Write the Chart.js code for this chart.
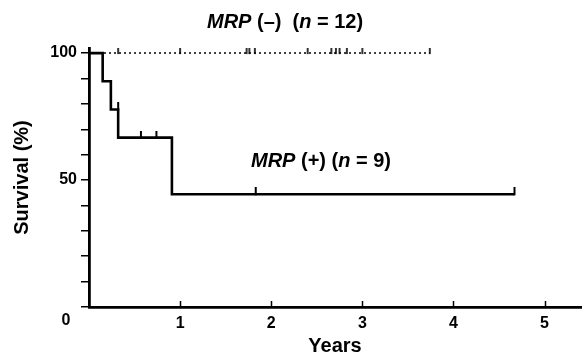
<!DOCTYPE html>
<html>
<head>
<meta charset="utf-8">
<script src="https://cdn.jsdelivr.net/npm/chart.js@4.4.1/dist/chart.umd.min.js"></script>
<style>
  html, body { margin: 0; padding: 0; background: #fff; }
  #wrap { width: 586px; height: 358px; position: relative; }
</style>
</head>
<body>
<div id="wrap"><canvas id="survChart"></canvas></div>
<script>
// Kaplan-Meier data (years, survival %)
const plusTimes = [0, 0.15, 0.24, 0.32, 0.91, 4.67];
const plusSurv = [100, 88.9, 77.8, 66.7, 44.4, 44.4];
const plusCensorTimes = [0.32, 0.57, 0.74, 1.83, 4.67];
const plusCensorSurv = [77.8, 66.7, 66.7, 44.4, 44.4];

const minusTimes = [0, 3.74];
const minusSurv = [100, 100];
const minusCensorTimes = [0.32, 1.0, 1.73, 1.76, 1.82, 2.40, 2.66, 2.71, 2.75, 2.83, 3.0, 3.74];

const xTicks = [1, 2, 3, 4, 5];
const yLabels = [50, 100];

const FONT = "'Liberation Sans', Arial, sans-serif";

// little upward censor tick used as point image
function censorMark(h, w) {
    const c = document.createElement('canvas');
    c.width = 4; c.height = h * 2;
    const g = c.getContext('2d');
    g.fillStyle = '#000';
    g.fillRect(2 - w / 2, 0, w, h + 1);
    return c;
}
const tickPlus = censorMark(7, 2);
const tickMinus = censorMark(6, 1.6);

const pts = (xs, ys) => xs.map((x, i) => ({ x: x, y: ys[i] }));

// extra drawing: inner x ticks, origin "0", curve labels
const extras = {
    id: 'extras',
    afterDraw(chart) {
        const ctx = chart.ctx;
        const xs = chart.scales.x;
        const bottom = chart.chartArea.bottom;
        ctx.save();
        ctx.strokeStyle = '#000';
        ctx.lineWidth = 1.5;
        xTicks.forEach(v => {
            const px = Math.round(xs.getPixelForValue(v)) + 0.5;
            ctx.beginPath();
            ctx.moveTo(px, bottom);
            ctx.lineTo(px, bottom - 6);
            ctx.stroke();
        });
        ctx.fillStyle = '#000';
        ctx.font = 'bold 16px ' + FONT;
        ctx.textAlign = 'center';
        ctx.textBaseline = 'top';
        ctx.fillText('0', xs.left - 23, bottom + 6);

        ctx.textBaseline = 'alphabetic';
        function label(parts, x, y) {
            ctx.textAlign = 'left';
            parts.forEach(p => {
                ctx.font = (p[1] ? 'italic ' : '') + 'bold 20px ' + FONT;
                ctx.fillText(p[0], x, y);
                x += ctx.measureText(p[0]).width;
            });
        }
        label([['MRP', true], [' (\u2013)  (', false], ['n', true], [' = 12)', false]], 207, 28);
        label([['MRP', true], [' (+) (', false], ['n', true], [' = 9)', false]], 251, 167);
        ctx.restore();
    }
};

new Chart(document.getElementById('survChart'), {
    type: 'line',
    data: {
        datasets: [
            {
                label: 'MRP (+)',
                data: pts(plusTimes, plusSurv),
                stepped: 'before',
                borderColor: '#000',
                borderWidth: 2.6,
                pointRadius: 0,
                fill: false,
                order: 1
            },
            {
                label: 'MRP (+) censored',
                data: pts(plusCensorTimes, plusCensorSurv),
                showLine: false,
                pointStyle: tickPlus,
                pointRadius: 4,
                order: 0
            },
            {
                label: 'MRP (-)',
                data: pts(minusTimes, minusSurv),
                borderColor: '#000',
                borderWidth: 1.5,
                borderDash: [2, 3],
                pointRadius: 0,
                fill: false,
                order: 3
            },
            {
                label: 'MRP (-) censored',
                data: minusCensorTimes.map(t => ({ x: t, y: 100 })),
                showLine: false,
                pointStyle: tickMinus,
                pointRadius: 4,
                order: 2
            }
        ]
    },
    options: {
        responsive: true,
        maintainAspectRatio: false,
        animation: false,
        layout: { padding: { top: 48, right: 0, left: 0, bottom: 0 } },
        plugins: {
            legend: { display: false },
            tooltip: { enabled: false }
        },
        scales: {
            x: {
                type: 'linear',
                min: 0,
                max: 5.4,
                afterFit: s => { s.height = 51; },
                ticks: {
                    stepSize: 1,
                    includeBounds: false,
                    autoSkip: false,
                    maxRotation: 0,
                    padding: 7,
                    color: '#000',
                    font: { family: FONT, size: 16, weight: 'bold' },
                    callback: v => (xTicks.includes(v) ? String(v) : '')
                },
                grid: { display: true, drawOnChartArea: false, drawTicks: false, color: 'rgba(0,0,0,0)' },
                border: { display: true, color: '#000', width: 2.8 },
                title: {
                    display: true,
                    text: 'Years',
                    color: '#000',
                    font: { family: FONT, size: 20, weight: 'bold' },
                    padding: { top: 2, bottom: 0 }
                }
            },
            y: {
                min: 0,
                max: 102,
                afterFit: s => { s.width = 89; },
                ticks: {
                    stepSize: 10,
                    includeBounds: false,
                    autoSkip: false,
                    padding: 4,
                    color: '#000',
                    font: { family: FONT, size: 16, weight: 'bold' },
                    callback: v => (yLabels.includes(v) ? String(v) : '')
                },
                grid: { drawOnChartArea: false, drawTicks: true, tickLength: 8, color: '#000', lineWidth: 1.5 },
                border: { display: true, color: '#000', width: 2.8 },
                title: {
                    display: true,
                    text: 'Survival (%)',
                    color: '#000',
                    font: { family: FONT, size: 20, weight: 'bold' },
                    padding: { top: 10, bottom: 0 }
                }
            }
        }
    },
    plugins: [extras]
});
</script>
</body>
</html>
